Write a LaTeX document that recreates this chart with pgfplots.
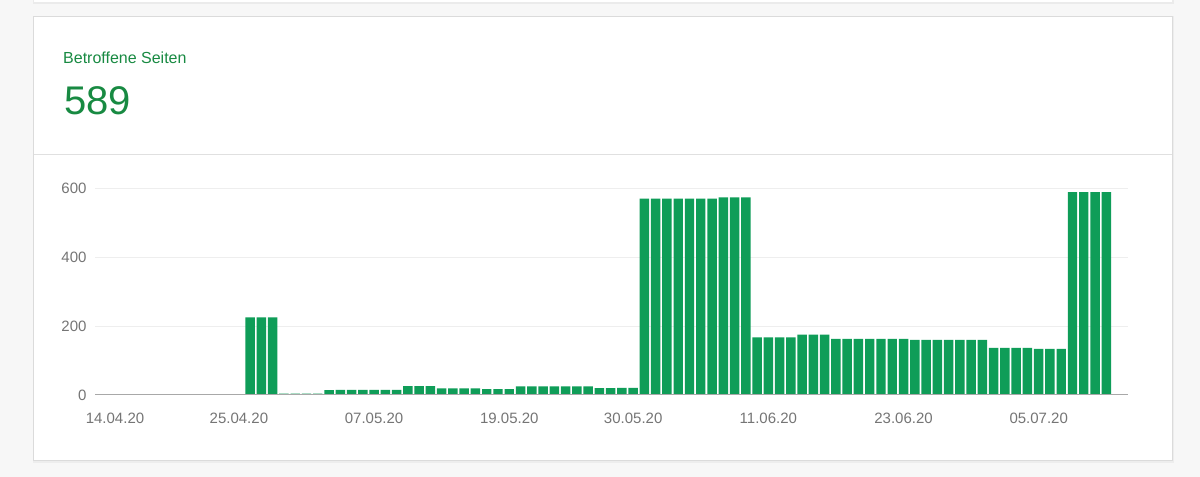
\documentclass[border=0pt]{standalone}
\usepackage{fontspec}
\setmainfont{Liberation Sans}
\usepackage{pgfplots}
\pgfplotsset{compat=1.18}
\usepackage{pgfplotstable}

\definecolor{pagebg}{HTML}{F7F7F7}
\definecolor{bargreen}{HTML}{0F9D58}
\definecolor{titlegreen}{HTML}{188A42}
\definecolor{sepgray}{HTML}{E0E0E0}
\definecolor{gridgray}{HTML}{EEEEEE}
\definecolor{basegray}{HTML}{A8A8A8}
\definecolor{tickgray}{HTML}{757575}

% day index (0 = 14.04.20) and affected pages
\pgfplotstableread{
day pages
12 225
13 225
14 225
15 4
16 4
17 4
18 4
19 14
20 15
21 15
22 15
23 15
24 15
25 15
26 26
27 26
28 26
29 19
30 19
31 19
32 19
33 17
34 17
35 17
36 25
37 25
38 25
39 25
40 25
41 25
42 25
43 20
44 20
45 21
46 21
47 570
48 570
49 570
50 570
51 570
52 570
53 570
54 574
55 574
56 574
57 167
58 167
59 167
60 167
61 175
62 175
63 175
64 163
65 163
66 163
67 163
68 163
69 163
70 163
71 160
72 160
73 160
74 160
75 160
76 160
77 160
78 137
79 137
80 137
81 137
82 134
83 134
84 134
85 589
86 589
87 589
88 589
}\pagesdata

\begin{document}
\begin{tikzpicture}[x=1bp,y=1bp]
\useasboundingbox (0,0) rectangle (1200,477);
% page and card
\fill[pagebg] (0,0) rectangle (1200,477);
\fill[black!8] (32.5,473) rectangle (1173.5,477);
\fill[white] (34,474.5) rectangle (1172,477);
\fill[black!7] (32.5,14) rectangle (1173.5,461);
\fill[black!14] (33.3,15.5) rectangle (1172.7,460.5);
\fill[white] (34,17) rectangle (1172,460);
\draw[sepgray, line width=1bp] (34,322) -- (1172,322);

\node[anchor=base west, inner sep=0, text=titlegreen,
      font=\fontsize{16bp}{19bp}\selectfont] at (63,413.7) {Betroffene Seiten};
\node[anchor=base west, inner sep=0, text=titlegreen,
      font=\fontsize{40bp}{48bp}\selectfont] at (64,362) {589};

\begin{axis}[
    at={(95bp,82bp)}, anchor=south west,
    scale only axis,
    width=1032.7bp, height=206.7bp,
    xmin=-1.775, xmax=89.9,
    ymin=0, ymax=600,
    ytick={0,200,400,600},
    xtick={0,11,23,35,46,58,70,82},
    xticklabels={14.04.20,25.04.20,07.05.20,19.05.20,30.05.20,11.06.20,23.06.20,05.07.20},
    axis line style={draw=none},
    tick style={draw=none},
    ymajorgrids,
    grid style={draw=gridgray, line width=1bp},
    ticklabel style={text=tickgray, font=\fontsize{15bp}{18bp}\selectfont},
    /pgf/number format/assume math mode=true,
    yticklabel style={anchor=east, inner sep=0, xshift=-8.3bp},
    xticklabel style={anchor=north, inner sep=0, yshift=-18.3bp},
    clip=false,
  ]
  \addplot[ybar, bar width=0.84, fill=bargreen, draw=none] table[x=day, y=pages] {\pagesdata};
  \draw[basegray, line width=1bp] (rel axis cs:0,0) -- (rel axis cs:1,0);
\end{axis}
\end{tikzpicture}
\end{document}
